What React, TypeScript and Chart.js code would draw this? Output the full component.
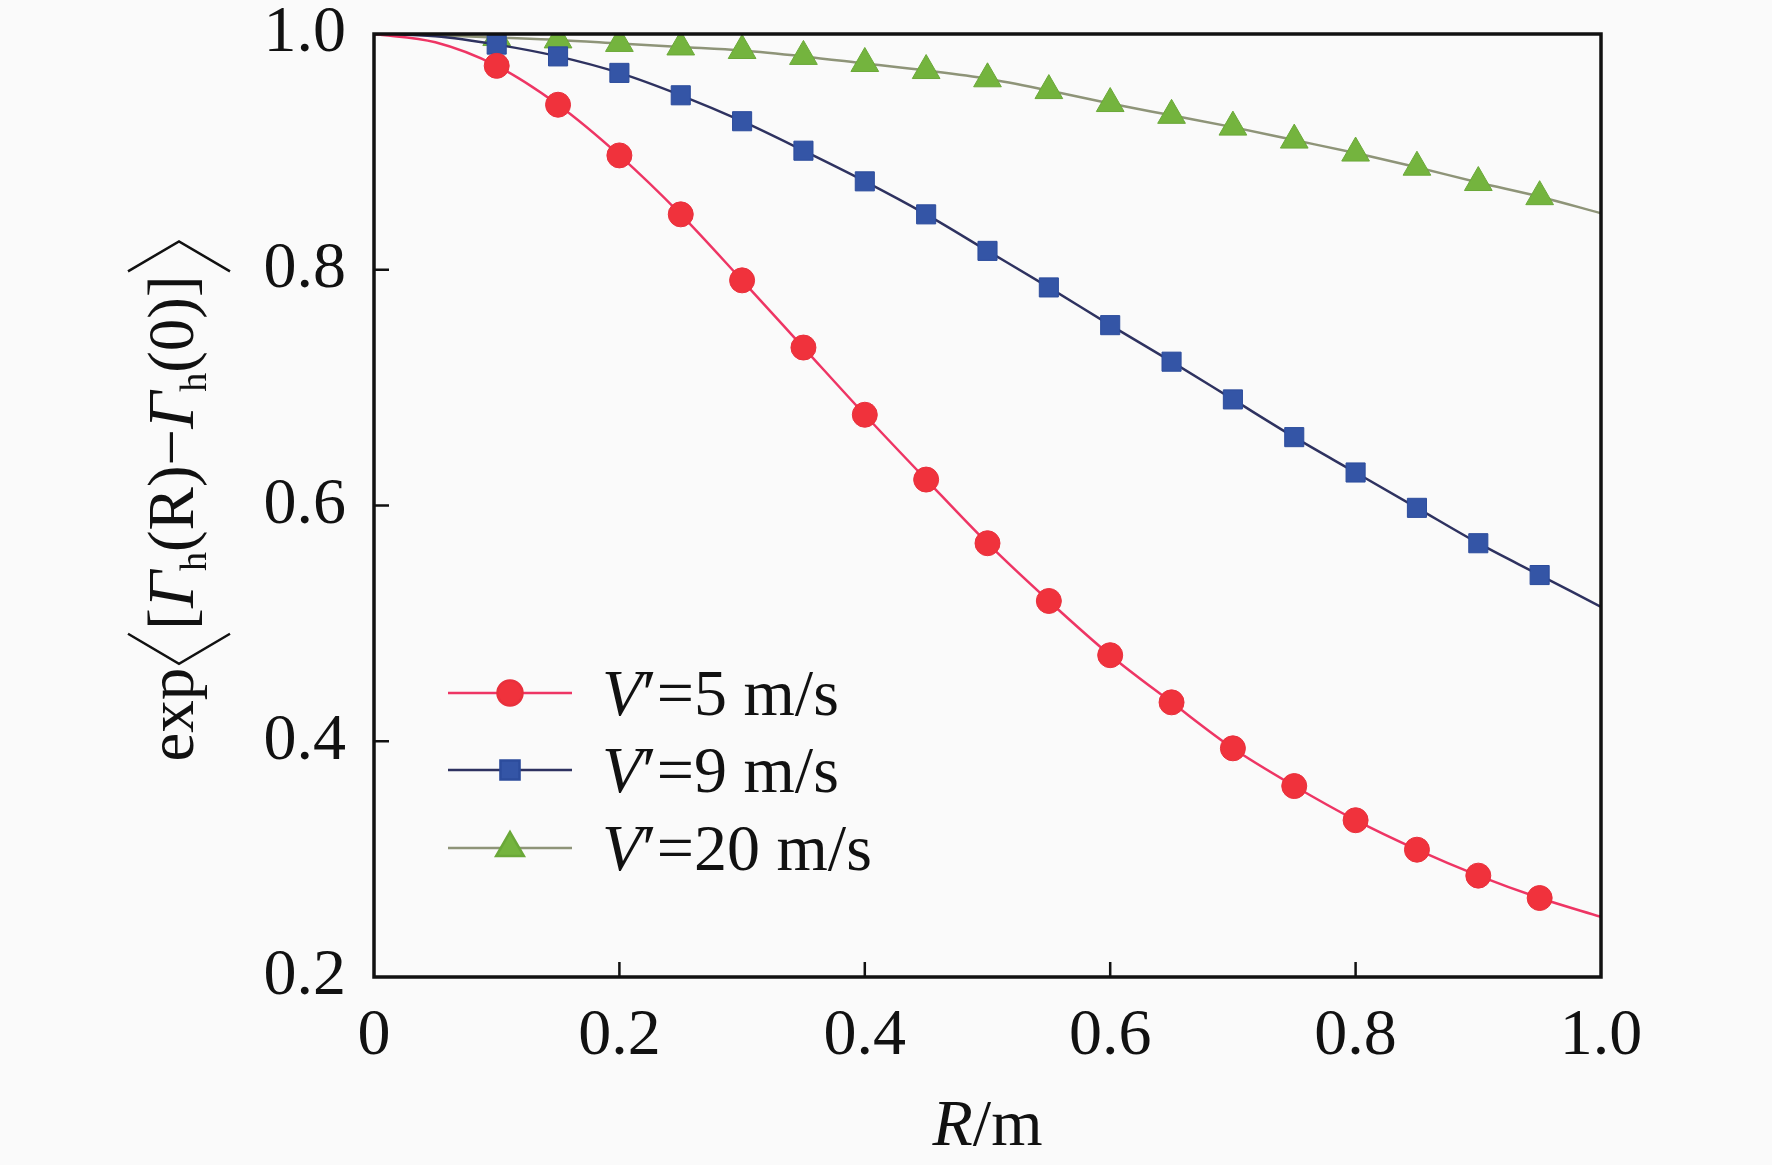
import React, { useEffect, useRef } from 'react';
import { Chart, registerables } from 'chart.js';
import { drawPoint } from 'chart.js/helpers';

Chart.register(...registerables);

// R in metres
const radius = [0, 0.05, 0.1, 0.15, 0.2, 0.25, 0.3, 0.35, 0.4, 0.45, 0.5, 0.55, 0.6, 0.65, 0.7, 0.75, 0.8, 0.85, 0.9, 0.95, 1.0];
const v5 = [1.0, 0.993, 0.973, 0.94, 0.897, 0.847, 0.791, 0.734, 0.677, 0.622, 0.568, 0.519, 0.473, 0.433, 0.394, 0.362, 0.333, 0.308, 0.286, 0.267, 0.251];
const v9 = [1.0, 0.998, 0.991, 0.981, 0.967, 0.948, 0.926, 0.901, 0.875, 0.847, 0.816, 0.785, 0.753, 0.722, 0.69, 0.658, 0.628, 0.598, 0.568, 0.541, 0.514];
const v20 = [1.0, 0.999, 0.997, 0.995, 0.992, 0.989, 0.986, 0.981, 0.975, 0.969, 0.962, 0.952, 0.941, 0.931, 0.921, 0.91, 0.899, 0.887, 0.874, 0.862, 0.848];
const speeds = ['5', '9', '20'];

const xTicks = [0, 0.2, 0.4, 0.6, 0.8, 1.0];
const xTickLabels = ['0', '0.2', '0.4', '0.6', '0.8', '1.0'];
const yTicks = [0.2, 0.4, 0.6, 0.8, 1.0];
const yTickLabels = ['0.2', '0.4', '0.6', '0.8', '1.0'];

const SERIF = "'Liberation Serif', 'Times New Roman', serif";

type Run = { text: string; italic?: boolean; size: number; dy?: number };

const font = (r: Run) => `${r.italic ? 'italic ' : ''}${r.size}px ${SERIF}`;

function runsWidth(ctx: CanvasRenderingContext2D, runs: Run[]) {
    let w = 0;
    runs.forEach((r) => {
        ctx.font = font(r);
        w += ctx.measureText(r.text).width;
    });
    return w;
}

function drawRuns(ctx: CanvasRenderingContext2D, runs: Run[], x: number, y: number) {
    let cx = x;
    runs.forEach((r) => {
        ctx.font = font(r);
        ctx.fillText(r.text, cx, y + (r.dy || 0));
        cx += ctx.measureText(r.text).width;
    });
    return cx;
}

const decorations = {
    id: 'decorations',
    afterDraw(chart: Chart) {
        const ctx = chart.ctx;
        const { left, right, top, bottom } = chart.chartArea;
        const xs = chart.scales.x;
        const ys = chart.scales.y;

        ctx.save();
        ctx.strokeStyle = '#111';
        ctx.fillStyle = '#111';

        // frame
        ctx.lineWidth = 3.5;
        ctx.strokeRect(left, top, right - left, bottom - top);

        // inward ticks
        ctx.lineWidth = 2.5;
        ctx.beginPath();
        xTicks.slice(1, -1).forEach((v) => {
            const px = xs.getPixelForValue(v);
            ctx.moveTo(px, bottom);
            ctx.lineTo(px, bottom - 15);
        });
        yTicks.slice(1, -1).forEach((v) => {
            const py = ys.getPixelForValue(v);
            ctx.moveTo(left, py);
            ctx.lineTo(left + 15, py);
        });
        ctx.stroke();

        ctx.textBaseline = 'alphabetic';

        // x title
        const xt: Run[] = [
            { text: 'R', italic: true, size: 66 },
            { text: '/m', size: 66 },
        ];
        const xw = runsWidth(ctx, xt);
        drawRuns(ctx, xt, (left + right) / 2 - xw / 2, 1145);

        // y title, rotated
        const fs = 65;
        const sub = 38;
        const brW = 30;
        const partA: Run[] = [{ text: 'exp', size: fs }];
        const partB: Run[] = [
            { text: '[', size: fs },
            { text: 'Γ', italic: true, size: fs },
            { text: 'h', size: sub, dy: 13 },
            { text: '(R)', size: fs },
            { text: '−', size: fs },
            { text: 'Γ', italic: true, size: fs },
            { text: 'h', size: sub, dy: 13 },
            { text: '(0)', size: fs },
            { text: ']', size: fs },
        ];
        const total = runsWidth(ctx, partA) + 4 + brW + 4 + runsWidth(ctx, partB) + 4 + brW;
        ctx.save();
        ctx.translate(193, (top + bottom) / 2 - 4);
        ctx.rotate(-Math.PI / 2);
        let cx = -total / 2;
        cx = drawRuns(ctx, partA, cx, 0) + 4;
        const cy = -14;
        ctx.lineWidth = 2.5;
        ctx.beginPath();
        ctx.moveTo(cx + brW, cy - 51);
        ctx.lineTo(cx, cy);
        ctx.lineTo(cx + brW, cy + 51);
        ctx.stroke();
        cx += brW + 4;
        cx = drawRuns(ctx, partB, cx, 0) + 4;
        ctx.beginPath();
        ctx.moveTo(cx, cy - 51);
        ctx.lineTo(cx + brW, cy);
        ctx.lineTo(cx, cy + 51);
        ctx.stroke();
        ctx.restore();

        // legend
        const rows = [693, 770, 848];
        chart.data.datasets.forEach((ds: any, i: number) => {
            const y = rows[i];
            ctx.strokeStyle = ds.borderColor;
            ctx.lineWidth = ds.borderWidth;
            ctx.beginPath();
            ctx.moveTo(448, y);
            ctx.lineTo(572, y);
            ctx.stroke();
            ctx.fillStyle = ds.pointBackgroundColor;
            ctx.strokeStyle = ds.pointBorderColor;
            drawPoint(ctx, { pointStyle: ds.pointStyle, radius: ds.legendRadius, rotation: 0, borderWidth: 1 }, 510, y);
            ctx.fillStyle = '#111';
            drawRuns(ctx, [
                { text: 'V', italic: true, size: 66 },
                { text: '′', size: 66 },
                { text: '=' + speeds[i] + ' m/s', size: 66 },
            ], 602, y + 22);
        });

        ctx.restore();
    },
};

function series(values: number[]) {
    return radius.map((r, i) => ({ x: r, y: values[i] }));
}

function markerRadius(r: number) {
    return radius.map((_, i) => (i < 2 || i === radius.length - 1 ? 0 : r));
}

const App: React.FC = () => {
    const canvasRef = useRef<HTMLCanvasElement | null>(null);
    const chartRef = useRef<Chart | null>(null);

    useEffect(() => {
        document.body.style.margin = '0';
        document.body.style.background = '#fafafa';
        if (!canvasRef.current) return;
        const ctx = canvasRef.current.getContext('2d');
        if (!ctx) return;
        if (chartRef.current) chartRef.current.destroy();

        const tickFont = { family: SERIF, size: 66, lineHeight: 1.0 };

        chartRef.current = new Chart(ctx, {
            type: 'line',
            data: {
                datasets: [
                    {
                        label: "V'=5 m/s",
                        data: series(v5),
                        borderColor: '#ee3564',
                        borderWidth: 2.5,
                        pointStyle: 'circle',
                        pointRadius: markerRadius(12.5),
                        pointBackgroundColor: '#f0323c',
                        pointBorderColor: '#e8303c',
                        pointBorderWidth: 1,
                        legendRadius: 12.5,
                        cubicInterpolationMode: 'monotone',
                    } as any,
                    {
                        label: "V'=9 m/s",
                        data: series(v9),
                        borderColor: '#2e3260',
                        borderWidth: 2.5,
                        pointStyle: 'rect',
                        pointRadius: markerRadius(13.5),
                        pointBackgroundColor: '#3455a6',
                        pointBorderColor: '#2c4c9c',
                        pointBorderWidth: 1,
                        legendRadius: 13.5,
                        cubicInterpolationMode: 'monotone',
                    } as any,
                    {
                        label: "V'=20 m/s",
                        data: series(v20),
                        borderColor: '#8e9478',
                        borderWidth: 2.5,
                        pointStyle: 'triangle',
                        pointRadius: markerRadius(16),
                        pointBackgroundColor: '#74b43e',
                        pointBorderColor: '#6aa838',
                        pointBorderWidth: 1,
                        legendRadius: 16,
                        cubicInterpolationMode: 'monotone',
                    } as any,
                ],
            },
            options: {
                responsive: false,
                maintainAspectRatio: false,
                animation: false,
                layout: { padding: { top: 34, right: 171, left: 0, bottom: 0 } },
                scales: {
                    x: {
                        type: 'linear',
                        min: 0,
                        max: 1,
                        grid: { display: false, drawTicks: false },
                        border: { display: false },
                        afterBuildTicks: (scale: any) => {
                            scale.ticks = xTicks.map((v) => ({ value: v }));
                        },
                        afterFit: (scale: any) => {
                            scale.height = 188;
                            scale.paddingLeft = 0;
                            scale.paddingRight = 0;
                        },
                        ticks: {
                            font: tickFont,
                            color: '#111',
                            padding: 27,
                            maxRotation: 0,
                            callback: (v: any) => xTickLabels[xTicks.indexOf(Number(v))] ?? '',
                        },
                    },
                    y: {
                        type: 'linear',
                        min: 0.2,
                        max: 1.0,
                        grid: { display: false, drawTicks: false },
                        border: { display: false },
                        afterBuildTicks: (scale: any) => {
                            scale.ticks = yTicks.map((v) => ({ value: v }));
                        },
                        afterFit: (scale: any) => {
                            scale.width = 374;
                            scale.paddingTop = 0;
                            scale.paddingBottom = 0;
                        },
                        ticks: {
                            font: tickFont,
                            color: '#111',
                            padding: 28,
                            callback: (v: any) => yTickLabels[yTicks.indexOf(Number(v))] ?? '',
                        },
                    },
                },
                plugins: {
                    legend: { display: false },
                    tooltip: { enabled: false },
                },
            },
            plugins: [decorations],
        });

        return () => {
            if (chartRef.current) {
                chartRef.current.destroy();
                chartRef.current = null;
            }
        };
    }, []);

    return (
        <div style={{ width: 1772, height: 1165, background: '#fafafa' }}>
            <canvas ref={canvasRef} width={1772} height={1165}></canvas>
        </div>
    );
};

export default App;
